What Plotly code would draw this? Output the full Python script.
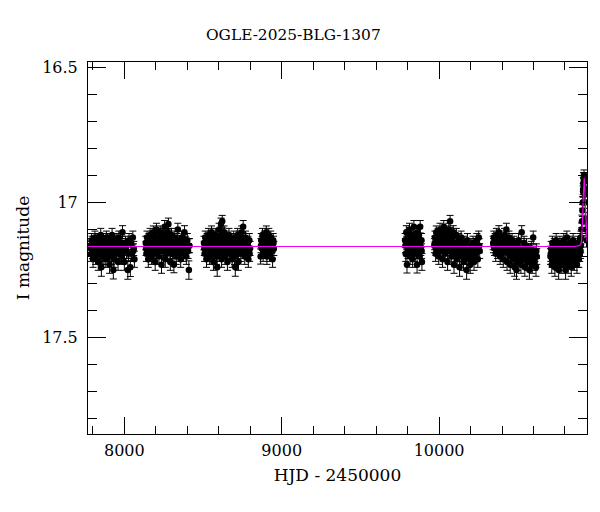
import plotly.graph_objects as go

# (HJD-2450000, I mag, error) per observing season
s1 = [(7784,17.16,.026),(7788,17.19,.028),(7792,17.14,.025),(7797,17.18,.027),(7801,17.21,.030),(7805,17.15,.025),(7809,17.17,.026),(7813,17.13,.024),(7817,17.20,.029),(7822,17.16,.026),(7826,17.18,.027),(7830,17.14,.025),(7834,17.22,.031),(7838,17.17,.026),(7842,17.15,.025),(7846,17.19,.028),(7850,17.12,.024),(7854,17.24,.033),(7858,17.16,.026),(7862,17.18,.027),(7866,17.14,.025),(7870,17.20,.029),(7874,17.17,.026),(7878,17.15,.025),(7882,17.21,.030),(7886,17.13,.024),(7890,17.18,.027),(7894,17.16,.026),(7898,17.19,.028),(7902,17.14,.025),(7906,17.23,.032),(7910,17.17,.026),(7914,17.15,.025),(7918,17.20,.029),(7922,17.12,.024),(7926,17.18,.027),(7930,17.25,.033),(7935,17.21,.030),(7940,17.14,.025),(7945,17.17,.026),(7950,17.19,.028),(7955,17.15,.025),(7960,17.22,.031),(7965,17.13,.024),(7970,17.18,.027),(7976,17.16,.026),(7982,17.20,.029),(7988,17.11,.024),(7994,17.17,.026),(8000,17.22,.031),(8007,17.15,.025),(8014,17.18,.027),(8022,17.25,.034),(8030,17.14,.025),(8038,17.24,.034),(8046,17.19,.028),(8054,17.13,.024),(8060,17.17,.026),(8064,17.21,.030)]
s1b = [(7786,17.17,.026),(7795,17.15,.025),(7803,17.18,.027),(7811,17.16,.026),(7820,17.14,.025),(7828,17.19,.028),(7836,17.15,.025),(7844,17.17,.026),(7852,17.16,.026),(7860,17.20,.029),(7868,17.15,.025),(7876,17.17,.026),(7884,17.18,.027),(7892,17.14,.025),(7900,17.16,.026),(7908,17.19,.028),(7916,17.17,.026),(7924,17.15,.025),(7933,17.18,.027),(7942,17.16,.026),(7952,17.14,.025),(7962,17.17,.026),(7972,17.19,.028),(7985,17.15,.025),(7997,17.18,.027),(8010,17.16,.026),(8026,17.19,.028),(8042,17.15,.025),(8057,17.18,.027)]
s2 = [(8136,17.15,.025),(8140,17.19,.028),(8144,17.13,.024),(8148,17.17,.026),(8152,17.21,.030),(8156,17.14,.025),(8160,17.18,.027),(8164,17.12,.024),(8168,17.16,.026),(8172,17.20,.029),(8176,17.13,.024),(8180,17.17,.026),(8184,17.11,.023),(8188,17.19,.028),(8192,17.15,.025),(8196,17.22,.031),(8200,17.14,.025),(8204,17.10,.023),(8208,17.18,.027),(8212,17.16,.026),(8216,17.13,.024),(8220,17.20,.029),(8224,17.15,.025),(8228,17.11,.023),(8232,17.17,.026),(8236,17.23,.032),(8240,17.14,.025),(8244,17.18,.027),(8248,17.12,.024),(8252,17.16,.026),(8256,17.09,.023),(8260,17.21,.030),(8264,17.15,.025),(8268,17.13,.024),(8272,17.19,.028),(8276,17.11,.023),(8280,17.08,.022),(8284,17.17,.026),(8288,17.14,.025),(8292,17.22,.031),(8296,17.16,.026),(8300,17.12,.024),(8305,17.19,.028),(8310,17.15,.025),(8315,17.23,.030),(8320,17.13,.024),(8325,17.17,.026),(8330,17.20,.029),(8335,17.14,.025),(8340,17.10,.023),(8346,17.18,.027),(8352,17.16,.026),(8358,17.21,.030),(8364,17.13,.024),(8370,17.17,.026),(8376,17.19,.028),(8382,17.11,.024),(8388,17.15,.025),(8394,17.20,.029),(8400,17.14,.025),(8405,17.18,.027),(8410,17.25,.034),(8414,17.16,.026)]
s2b = [(8138,17.17,.026),(8146,17.15,.025),(8154,17.18,.027),(8162,17.16,.026),(8170,17.14,.025),(8178,17.19,.028),(8186,17.15,.025),(8194,17.17,.026),(8202,17.13,.024),(8210,17.16,.026),(8218,17.18,.027),(8226,17.14,.025),(8234,17.16,.026),(8242,17.12,.024),(8250,17.18,.027),(8258,17.14,.025),(8266,17.17,.026),(8274,17.15,.025),(8282,17.12,.024),(8290,17.18,.027),(8298,17.15,.025),(8307,17.17,.026),(8317,17.14,.025),(8328,17.18,.027),(8338,17.16,.026),(8349,17.19,.028),(8361,17.15,.025),(8373,17.17,.026),(8385,17.14,.025),(8397,17.18,.027),(8408,17.16,.026)]
s3 = [(8506,17.15,.025),(8510,17.19,.028),(8514,17.13,.024),(8518,17.17,.026),(8522,17.21,.030),(8526,17.14,.025),(8530,17.18,.027),(8534,17.12,.024),(8538,17.16,.026),(8542,17.20,.029),(8546,17.13,.024),(8550,17.17,.026),(8554,17.11,.023),(8558,17.19,.028),(8562,17.15,.025),(8566,17.22,.031),(8570,17.14,.025),(8574,17.18,.027),(8578,17.12,.024),(8582,17.16,.026),(8586,17.20,.029),(8590,17.24,.033),(8594,17.13,.024),(8598,17.17,.026),(8602,17.10,.023),(8606,17.19,.028),(8610,17.15,.025),(8614,17.08,.022),(8618,17.21,.030),(8622,17.07,.022),(8626,17.14,.025),(8630,17.18,.027),(8634,17.11,.023),(8638,17.16,.026),(8642,17.20,.029),(8646,17.13,.024),(8650,17.17,.026),(8655,17.22,.031),(8660,17.15,.025),(8665,17.12,.024),(8670,17.19,.028),(8675,17.14,.025),(8680,17.18,.027),(8685,17.21,.030),(8690,17.16,.026),(8695,17.13,.024),(8700,17.20,.029),(8705,17.24,.033),(8710,17.15,.025),(8715,17.18,.027),(8720,17.12,.024),(8725,17.22,.031),(8730,17.16,.026),(8735,17.14,.025),(8740,17.19,.028),(8745,17.11,.023),(8750,17.17,.026),(8755,17.09,.023),(8760,17.15,.025),(8765,17.20,.029),(8770,17.13,.024),(8776,17.18,.027),(8782,17.16,.026),(8788,17.21,.030),(8794,17.14,.025),(8799,17.17,.026)]
s3b = [(8508,17.17,.026),(8516,17.15,.025),(8524,17.18,.027),(8532,17.16,.026),(8540,17.14,.025),(8548,17.19,.028),(8556,17.15,.025),(8564,17.17,.026),(8572,17.16,.026),(8580,17.18,.027),(8588,17.14,.025),(8596,17.16,.026),(8604,17.13,.024),(8612,17.17,.026),(8620,17.12,.024),(8628,17.16,.026),(8636,17.14,.025),(8644,17.18,.027),(8652,17.15,.025),(8662,17.17,.026),(8672,17.16,.026),(8682,17.14,.025),(8692,17.18,.027),(8702,17.17,.026),(8712,17.15,.025),(8722,17.19,.028),(8732,17.13,.024),(8742,17.16,.026),(8752,17.14,.025),(8762,17.18,.027),(8772,17.16,.026),(8785,17.15,.025),(8796,17.19,.028)]
s4 = [(8866,17.20,.028),(8870,17.14,.025),(8874,17.17,.026),(8878,17.12,.024),(8882,17.19,.028),(8886,17.15,.025),(8890,17.13,.024),(8894,17.18,.027),(8898,17.16,.026),(8902,17.11,.023),(8906,17.20,.029),(8910,17.14,.025),(8914,17.17,.026),(8918,17.12,.024),(8922,17.19,.028),(8926,17.15,.025),(8930,17.13,.024),(8934,17.18,.027),(8938,17.16,.026),(8942,17.21,.030),(8946,17.14,.025),(8950,17.17,.026)]
s4b = [(8868,17.16,.026),(8876,17.15,.025),(8884,17.17,.026),(8892,17.16,.026),(8900,17.14,.025),(8908,17.17,.026),(8916,17.15,.025),(8924,17.17,.026),(8932,17.16,.026),(8940,17.18,.027),(8948,17.15,.025)]
s5 = [(9784,17.14,.025),(9788,17.19,.028),(9792,17.11,.024),(9796,17.23,.031),(9800,17.16,.026),(9804,17.13,.024),(9808,17.18,.027),(9812,17.10,.023),(9816,17.20,.029),(9820,17.15,.025),(9824,17.12,.024),(9828,17.17,.026),(9832,17.21,.030),(9836,17.14,.025),(9840,17.09,.023),(9844,17.19,.028),(9848,17.16,.026),(9852,17.13,.024),(9856,17.18,.027),(9860,17.23,.031),(9864,17.11,.024),(9868,17.15,.025),(9872,17.12,.024),(9876,17.20,.029),(9880,17.09,.023),(9884,17.17,.026),(9888,17.14,.025),(9891,17.22,.031)]
s5b = [(9786,17.16,.026),(9794,17.15,.025),(9802,17.18,.027),(9810,17.14,.025),(9818,17.17,.026),(9826,17.15,.025),(9834,17.18,.027),(9842,17.13,.024),(9850,17.16,.026),(9858,17.15,.025),(9866,17.18,.027),(9874,17.14,.025),(9882,17.16,.026),(9889,17.18,.027)]
s6 = [(9970,17.16,.026),(9974,17.13,.024),(9978,17.19,.028),(9982,17.11,.023),(9986,17.15,.025),(9990,17.17,.026),(9994,17.12,.024),(9998,17.20,.029),(10002,17.14,.025),(10006,17.10,.023),(10010,17.18,.027),(10014,17.15,.025),(10018,17.12,.024),(10022,17.21,.030),(10026,17.16,.026),(10030,17.09,.023),(10034,17.14,.025),(10038,17.19,.028),(10042,17.11,.023),(10046,17.17,.026),(10050,17.13,.024),(10054,17.22,.031),(10058,17.15,.025),(10062,17.10,.023),(10066,17.18,.027),(10070,17.07,.022),(10074,17.16,.026),(10078,17.20,.029),(10082,17.13,.024),(10086,17.17,.026),(10090,17.11,.024),(10095,17.23,.032),(10100,17.15,.025),(10105,17.19,.028),(10110,17.12,.024),(10115,17.21,.030),(10120,17.16,.026),(10125,17.14,.025),(10130,17.24,.033),(10135,17.18,.027),(10140,17.13,.024),(10145,17.20,.029),(10150,17.16,.026),(10155,17.22,.031),(10160,17.15,.025),(10165,17.19,.028),(10170,17.17,.026),(10175,17.25,.034),(10180,17.14,.025),(10186,17.21,.030),(10192,17.18,.027),(10198,17.23,.032),(10204,17.16,.026),(10210,17.20,.029),(10216,17.15,.025),(10222,17.22,.031),(10228,17.17,.026),(10234,17.19,.028),(10240,17.14,.025),(10246,17.21,.030),(10252,17.13,.024),(10258,17.18,.027)]
s6b = [(9972,17.15,.025),(9980,17.17,.026),(9988,17.14,.025),(9996,17.16,.026),(10004,17.13,.024),(10012,17.16,.026),(10020,17.14,.025),(10028,17.12,.024),(10036,17.16,.026),(10044,17.14,.025),(10052,17.17,.026),(10060,17.13,.024),(10068,17.15,.025),(10076,17.12,.024),(10084,17.16,.026),(10092,17.18,.027),(10102,17.17,.026),(10112,17.15,.025),(10122,17.19,.028),(10132,17.17,.026),(10142,17.18,.027),(10152,17.20,.029),(10162,17.17,.026),(10172,17.19,.028),(10183,17.18,.027),(10195,17.20,.029),(10207,17.17,.026),(10219,17.19,.028),(10231,17.16,.026),(10243,17.18,.027),(10255,17.16,.026)]
s7 = [(10344,17.15,.025),(10348,17.13,.024),(10352,17.17,.026),(10356,17.14,.025),(10360,17.19,.028),(10364,17.12,.024),(10368,17.16,.026),(10372,17.18,.027),(10376,17.14,.025),(10380,17.11,.024),(10384,17.17,.026),(10388,17.20,.029),(10392,17.15,.025),(10396,17.13,.024),(10400,17.19,.028),(10404,17.16,.026),(10408,17.21,.030),(10412,17.14,.025),(10416,17.12,.024),(10420,17.18,.027),(10424,17.16,.026),(10428,17.10,.023),(10432,17.22,.031),(10436,17.15,.025),(10440,17.19,.028),(10444,17.13,.024),(10448,17.17,.026),(10452,17.23,.032),(10456,17.16,.026),(10460,17.20,.029),(10464,17.14,.025),(10468,17.18,.027),(10472,17.21,.030),(10476,17.15,.025),(10480,17.24,.033),(10484,17.17,.026),(10488,17.19,.028),(10492,17.25,.034),(10496,17.16,.026),(10500,17.22,.031),(10505,17.14,.025),(10510,17.20,.029),(10515,17.18,.027),(10520,17.23,.032),(10525,17.11,.024),(10530,17.17,.026),(10535,17.21,.030),(10540,17.15,.025),(10545,17.24,.033),(10550,17.19,.028),(10556,17.16,.026),(10562,17.22,.031),(10568,17.18,.027),(10574,17.25,.034),(10580,17.20,.029),(10586,17.17,.026),(10592,17.23,.032),(10598,17.13,.024),(10604,17.21,.030),(10610,17.19,.028),(10616,17.24,.033),(10621,17.20,.029)]
s7b = [(10346,17.16,.026),(10354,17.15,.025),(10362,17.17,.026),(10370,17.14,.025),(10378,17.16,.026),(10386,17.15,.025),(10394,17.17,.026),(10402,17.14,.025),(10410,17.18,.027),(10418,17.16,.026),(10426,17.14,.025),(10434,17.18,.027),(10442,17.16,.026),(10450,17.19,.028),(10458,17.18,.027),(10466,17.16,.026),(10474,17.19,.028),(10482,17.20,.029),(10490,17.18,.027),(10498,17.20,.029),(10508,17.17,.026),(10518,17.20,.029),(10528,17.19,.028),(10538,17.18,.027),(10548,17.21,.030),(10559,17.19,.028),(10571,17.21,.030),(10583,17.18,.027),(10595,17.20,.029),(10607,17.22,.031),(10618,17.18,.027)]
s8 = [(10708,17.20,.029),(10712,17.17,.026),(10716,17.23,.032),(10720,17.15,.025),(10724,17.19,.028),(10728,17.21,.030),(10732,17.16,.026),(10736,17.24,.033),(10740,17.18,.027),(10744,17.14,.025),(10748,17.20,.029),(10752,17.22,.031),(10756,17.17,.026),(10760,17.25,.034),(10764,17.19,.028),(10768,17.15,.025),(10772,17.21,.030),(10776,17.18,.027),(10780,17.23,.032),(10784,17.16,.026),(10788,17.20,.029),(10792,17.14,.025),(10796,17.22,.031),(10800,17.18,.027),(10804,17.25,.034),(10808,17.16,.026),(10812,17.13,.024),(10816,17.20,.029),(10820,17.23,.032),(10824,17.17,.026),(10828,17.21,.030),(10832,17.15,.025),(10836,17.19,.028),(10840,17.24,.033),(10844,17.17,.026),(10848,17.21,.030),(10852,17.14,.025),(10856,17.19,.028),(10860,17.22,.031),(10864,17.16,.026),(10868,17.20,.029),(10872,17.18,.027),(10876,17.23,.032),(10880,17.15,.025),(10884,17.19,.028),(10888,17.21,.030),(10892,17.17,.026),(10896,17.14,.025),(10899,17.18,.027),(10902,17.13,.024),(10905,17.10,.024),(10908,17.07,.023),(10911,17.03,.022),(10913,17.00,.022),(10915,16.96,.021),(10917,16.93,.021),(10919,16.91,.020),(10921,16.90,.020),(10923,16.92,.020),(10925,16.95,.021),(10928,17.00,.022),(10931,17.06,.023),(10934,17.10,.024),(10937,17.14,.025)]
s8b = [(10710,17.19,.028),(10718,17.21,.030),(10726,17.18,.027),(10734,17.20,.029),(10742,17.17,.026),(10750,17.19,.028),(10758,17.21,.030),(10766,17.18,.027),(10774,17.20,.029),(10782,17.19,.028),(10790,17.17,.026),(10798,17.20,.029),(10806,17.19,.028),(10814,17.17,.026),(10822,17.20,.029),(10830,17.18,.027),(10838,17.21,.030),(10846,17.19,.028),(10854,17.17,.026),(10862,17.20,.029),(10870,17.18,.027),(10878,17.21,.030),(10886,17.18,.027),(10894,17.19,.028),(10900,17.16,.026),(10916,16.95,.021),(10920,16.91,.020),(10922,16.91,.020),(10926,16.97,.021)]

# model light curve
model_t = [7700, 10860, 10890, 10900, 10905, 10908, 10911, 10914, 10917, 10920, 10922, 10924, 10927, 10930, 10933, 10936, 10940, 10950]
model_m = [17.163, 17.163, 17.160, 17.155, 17.145, 17.12, 17.08, 17.03, 16.97, 16.925, 16.91, 16.925, 16.97, 17.03, 17.08, 17.115, 17.14, 17.155]

title_text = "OGLE-2025-BLG-1307"
x_title = "HJD - 2450000"
y_title = "I magnitude"

rows = s1 + s1b + s2 + s2b + s3 + s3b + s4 + s4b + s5 + s5b + s6 + s6b + s7 + s7b + s8 + s8b
hjd = [r[0] for r in rows]
mag = [r[1] for r in rows]
err = [r[2] for r in rows]

FONT = "DejaVu Serif"
L, R, T, B = 88, 13, 62, 78
W, H = 600, 512
pw, ph = W - L - R, H - T - B

fig = go.Figure()
fig.add_trace(go.Scatter(
    x=hjd, y=mag, mode="markers",
    marker=dict(color="black", size=6.5),
    error_y=dict(type="data", array=err, visible=True, color="black", thickness=1, width=3.5),
    showlegend=False, hoverinfo="skip",
))
fig.add_trace(go.Scatter(
    x=model_t, y=model_m, mode="lines",
    line=dict(color="#f000f0", width=1.2),
    showlegend=False, hoverinfo="skip",
))

fig.update_layout(
    width=W, height=H,
    margin=dict(l=L, r=R, t=T, b=B, autoexpand=False),
    paper_bgcolor="white", plot_bgcolor="white",
    font=dict(family=FONT, color="black", size=16),
    annotations=[dict(text=title_text, xref="paper", yref="paper",
                      x=(293.5 - L) / pw, y=(H - B - 35) / ph,
                      xanchor="center", yanchor="middle", showarrow=False,
                      font=dict(family=FONT, size=15.4, color="black"))],
)
fig.update_xaxes(
    range=[7769, 10940], showgrid=False, zeroline=False, automargin=False,
    showline=True, linecolor="black", linewidth=1, mirror="allticks",
    ticks="inside", ticklen=17, tickwidth=1, tickcolor="black",
    tick0=0, dtick=1000, tickformat="d", ticklabelstandoff=2,
    minor=dict(ticks="inside", ticklen=8, dtick=200, tick0=0, tickcolor="black", tickwidth=1, showgrid=False),
    title=dict(text=x_title, font=dict(family=FONT, size=17), standoff=9),
    tickfont=dict(family=FONT, size=16),
)
fig.update_yaxes(
    range=[17.856, 16.481], showgrid=False, zeroline=False, automargin=False,
    showline=True, linecolor="black", linewidth=1, mirror="allticks",
    ticks="inside", ticklen=18, tickwidth=1, tickcolor="black",
    tick0=16.5, dtick=0.5, ticklabelstandoff=6,
    minor=dict(ticks="inside", ticklen=9, dtick=0.1, tick0=16.5, tickcolor="black", tickwidth=1, showgrid=False),
    title=dict(text=y_title, font=dict(family=FONT, size=17), standoff=8),
    tickfont=dict(family=FONT, size=16),
)

fig.write_html("out.html", config={"displayModeBar": False},
               post_script="document.body.style.margin='0';document.body.style.padding='0';")
